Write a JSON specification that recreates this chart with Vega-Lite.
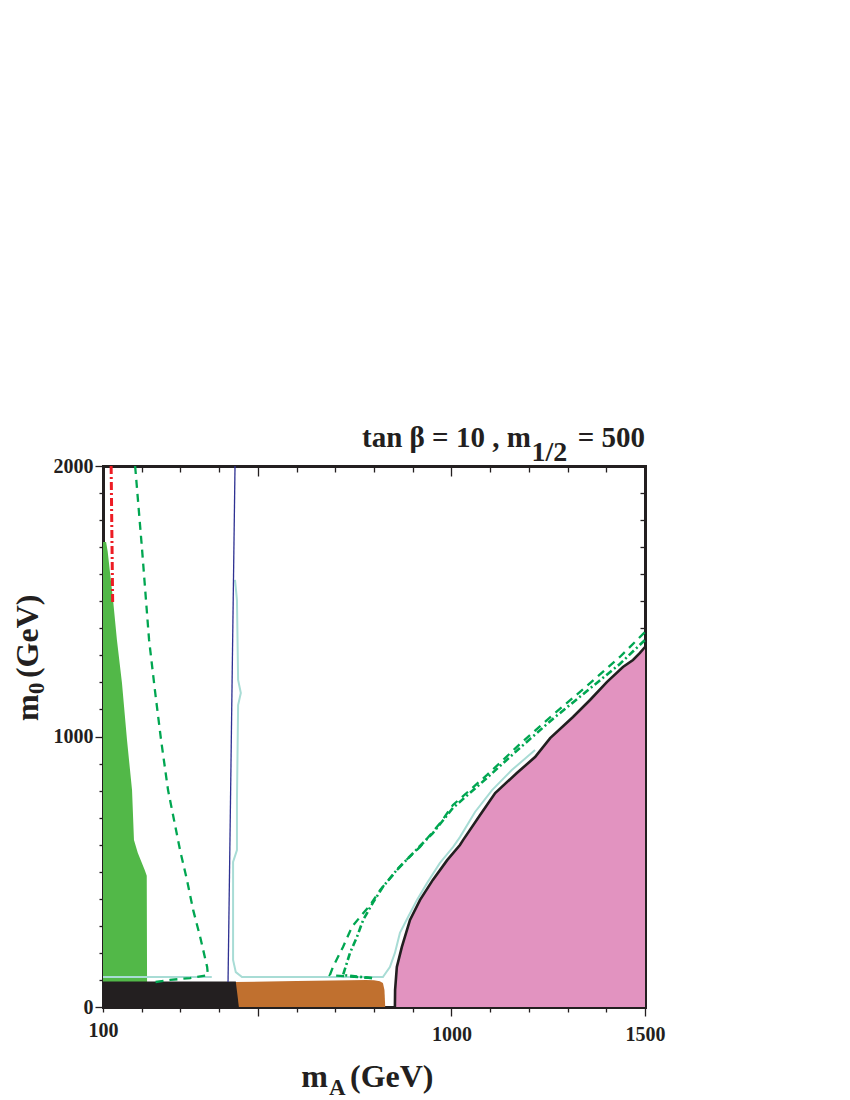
{
  "$schema": "https://vega.github.io/schema/vega-lite/v6.json",
  "width": 542,
  "height": 541,
  "autosize": {"type": "none"},
  "padding": {"left": 103, "top": 466, "right": 205, "bottom": 93},
  "background": "white",
  "config": {"view": {"stroke": null}},
  "datasets": {
    "green": [
      {"x": 100, "y": 1719}, {"x": 108, "y": 1719}, {"x": 112, "y": 1685}, {"x": 126, "y": 1505},
      {"x": 136, "y": 1357}, {"x": 149, "y": 1198}, {"x": 162, "y": 987}, {"x": 175, "y": 802},
      {"x": 180, "y": 617}, {"x": 190, "y": 569}, {"x": 208, "y": 506}, {"x": 213, "y": 485},
      {"x": 214, "y": 0}
    ],
    "orange": [
      {"x": 440, "y": 92}, {"x": 600, "y": 96}, {"x": 780, "y": 100}, {"x": 800, "y": 99},
      {"x": 815, "y": 95}, {"x": 823, "y": 89}, {"x": 827, "y": 63}, {"x": 829, "y": 0}
    ],
    "black": [
      {"x": 100, "y": 94}, {"x": 443, "y": 94}, {"x": 451, "y": 0}
    ],
    "pink": [
      {"x": 854, "y": 0, "o": 0}, {"x": 854.5, "y": 63, "o": 1}, {"x": 859, "y": 148, "o": 2},
      {"x": 872, "y": 222, "o": 3}, {"x": 893, "y": 322, "o": 4}, {"x": 919, "y": 396, "o": 5},
      {"x": 952, "y": 470, "o": 6}, {"x": 989, "y": 543, "o": 7}, {"x": 1022, "y": 599, "o": 8},
      {"x": 1030, "y": 617, "o": 9}, {"x": 1074, "y": 710, "o": 10}, {"x": 1113, "y": 791, "o": 11},
      {"x": 1169, "y": 865, "o": 12}, {"x": 1216, "y": 924, "o": 13}, {"x": 1255, "y": 994, "o": 14},
      {"x": 1314, "y": 1072, "o": 15}, {"x": 1358, "y": 1135, "o": 16}, {"x": 1402, "y": 1202, "o": 17},
      {"x": 1443, "y": 1257, "o": 18}, {"x": 1469, "y": 1283, "o": 19}, {"x": 1487, "y": 1309, "o": 20},
      {"x": 1500, "y": 1331, "o": 21}
    ],
    "red": [
      {"x": 121, "y": 2000, "o": 0}, {"x": 125, "y": 1490, "o": 1}
    ],
    "blue": [
      {"x": 441, "y": 2000, "o": 0}, {"x": 423, "y": 92, "o": 1}
    ],
    "dashL": [
      {"x": 183, "y": 2000, "o": 0}, {"x": 201, "y": 1690, "o": 1}, {"x": 219, "y": 1357, "o": 2},
      {"x": 234, "y": 1172, "o": 3}, {"x": 250, "y": 987, "o": 4}, {"x": 268, "y": 802, "o": 5},
      {"x": 299, "y": 580, "o": 6}, {"x": 317, "y": 469, "o": 7}, {"x": 333, "y": 358, "o": 8},
      {"x": 351, "y": 259, "o": 9}, {"x": 369, "y": 148, "o": 10}, {"x": 371, "y": 118, "o": 11},
      {"x": 325, "y": 107, "o": 12}, {"x": 273, "y": 100, "o": 13}, {"x": 234, "y": 92, "o": 14}
    ],
    "dashR": [
      {"x": 795, "y": 107, "o": 0}, {"x": 686, "y": 118, "o": 1}, {"x": 694, "y": 148, "o": 2},
      {"x": 720, "y": 222, "o": 3}, {"x": 743, "y": 296, "o": 4}, {"x": 764, "y": 333, "o": 5},
      {"x": 790, "y": 377, "o": 6}, {"x": 816, "y": 433, "o": 7}, {"x": 875, "y": 532, "o": 8},
      {"x": 919, "y": 592, "o": 9}, {"x": 971, "y": 680, "o": 10}, {"x": 1004, "y": 747, "o": 11},
      {"x": 1092, "y": 858, "o": 12}, {"x": 1177, "y": 972, "o": 13}, {"x": 1262, "y": 1080, "o": 14},
      {"x": 1350, "y": 1187, "o": 15}, {"x": 1435, "y": 1294, "o": 16}, {"x": 1500, "y": 1386, "o": 17}
    ],
    "dashdotR": [
      {"x": 795, "y": 107, "o": 0}, {"x": 720, "y": 118, "o": 1}, {"x": 738, "y": 200, "o": 2},
      {"x": 756, "y": 259, "o": 3}, {"x": 772, "y": 322, "o": 4}, {"x": 797, "y": 385, "o": 5},
      {"x": 823, "y": 444, "o": 6}, {"x": 859, "y": 507, "o": 7}, {"x": 901, "y": 569, "o": 8},
      {"x": 952, "y": 643, "o": 9}, {"x": 1004, "y": 736, "o": 10}, {"x": 1092, "y": 847, "o": 11},
      {"x": 1177, "y": 958, "o": 12}, {"x": 1262, "y": 1065, "o": 13}, {"x": 1350, "y": 1168, "o": 14},
      {"x": 1435, "y": 1268, "o": 15}, {"x": 1500, "y": 1357, "o": 16}
    ],
    "cyan": [
      {"x": 441, "y": 1579, "o": 0}, {"x": 446, "y": 1505, "o": 1}, {"x": 449, "y": 1209, "o": 2},
      {"x": 456, "y": 1161, "o": 3}, {"x": 449, "y": 1116, "o": 4}, {"x": 446, "y": 765, "o": 5},
      {"x": 446, "y": 580, "o": 6}, {"x": 436, "y": 536, "o": 7}, {"x": 436, "y": 396, "o": 8},
      {"x": 436, "y": 174, "o": 9}, {"x": 443, "y": 129, "o": 10}, {"x": 459, "y": 111, "o": 11},
      {"x": 823, "y": 111, "o": 12}, {"x": 841, "y": 148, "o": 13}, {"x": 854, "y": 200, "o": 14},
      {"x": 867, "y": 274, "o": 15}, {"x": 888, "y": 333, "o": 16}, {"x": 911, "y": 396, "o": 17},
      {"x": 937, "y": 458, "o": 18}, {"x": 970, "y": 532, "o": 19}, {"x": 1004, "y": 591, "o": 20},
      {"x": 1022, "y": 628, "o": 21}, {"x": 1061, "y": 721, "o": 22}, {"x": 1105, "y": 802, "o": 23},
      {"x": 1156, "y": 876, "o": 24}, {"x": 1216, "y": 950, "o": 25}
    ],
    "cyanL": [
      {"x": 100, "y": 111, "o": 0}, {"x": 381, "y": 111, "o": 1}
    ],
    "one": [{"x": 100, "y": 0}]
  },
  "layer": [
    {
      "encoding": {
        "x": {
          "field": "x", "type": "quantitative",
          "scale": {"domain": [100, 1500], "nice": false, "zero": false},
          "axis": {
            "orient": "bottom", "title": null, "grid": false,
            "values": [100, 200, 300, 400, 500, 600, 700, 800, 900, 1000, 1100, 1200, 1300, 1400, 1500],
            "format": "d",
            "labelExpr": "(datum.value == 100 || datum.value == 1000 || datum.value == 1500) ? datum.label : ''",
            "labelFont": "Liberation Serif", "labelFontWeight": "bold", "labelFontSize": 20,
            "labelColor": "#231F20", "labelPadding": 8, "labelOverlap": false, "labelFlush": false, "labelBound": false,
            "domainColor": "#231F20", "domainWidth": 3, "domainCap": "square",
            "tickColor": "#231F20", "tickWidth": 1.3,
            "tickSize": {"condition": {"test": "datum.value % 500 === 0", "value": 9}, "value": 5}
          }
        },
        "y": {
          "field": "y", "type": "quantitative",
          "scale": {"domain": [0, 2000], "nice": false, "zero": false},
          "axis": {
            "orient": "left", "title": null, "grid": false,
            "values": [0, 100, 200, 300, 400, 500, 600, 700, 800, 900, 1000, 1100, 1200, 1300, 1400, 1500, 1600, 1700, 1800, 1900, 2000],
            "format": "d",
            "labelExpr": "(datum.value % 1000 === 0) ? datum.label : ''",
            "labelFont": "Liberation Serif", "labelFontWeight": "bold", "labelFontSize": 20,
            "labelColor": "#231F20", "labelPadding": 2, "labelOverlap": false, "labelFlush": false, "labelBound": false,
            "domainColor": "#231F20", "domainWidth": 3, "domainCap": "square",
            "tickColor": "#231F20", "tickWidth": 1.3,
            "tickSize": {"condition": {"test": "datum.value % 1000 === 0", "value": 8}, "value": 4}
          }
        }
      },
      "layer": [
        {"data": {"name": "green"}, "mark": {"type": "area", "orient": "vertical", "color": "#52B848"}, "encoding": {"y2": {"datum": 0}}},
        {"data": {"name": "orange"}, "mark": {"type": "area", "orient": "vertical", "color": "#C0702F"}, "encoding": {"y2": {"datum": 0}}},
        {"data": {"name": "black"}, "mark": {"type": "area", "orient": "vertical", "color": "#231F20"}, "encoding": {"y2": {"datum": 0}}},
        {"data": {"name": "pink"}, "mark": {"type": "area", "orient": "vertical", "color": "#E293C0"}, "encoding": {"y2": {"datum": 0}}},
        {"data": {"name": "cyanL"}, "mark": {"type": "line", "color": "#A8DCD5", "strokeWidth": 2}, "encoding": {"order": {"field": "o"}}},
        {"data": {"name": "cyan"}, "mark": {"type": "line", "color": "#A8DCD5", "strokeWidth": 2}, "encoding": {"order": {"field": "o"}}},
        {"data": {"name": "pink"}, "mark": {"type": "line", "color": "#231F20", "strokeWidth": 2.6}, "encoding": {"order": {"field": "o"}}},
        {"data": {"name": "blue"}, "mark": {"type": "line", "color": "#2E3192", "strokeWidth": 1.3}, "encoding": {"order": {"field": "o"}}},
        {"data": {"name": "red"}, "mark": {"type": "line", "color": "#ED1C24", "strokeWidth": 3, "strokeDash": [8, 3, 2, 3]}, "encoding": {"order": {"field": "o"}}},
        {"data": {"name": "dashL"}, "mark": {"type": "line", "color": "#00A651", "strokeWidth": 2.3, "strokeDash": [8, 6]}, "encoding": {"order": {"field": "o"}}},
        {"data": {"name": "dashR"}, "mark": {"type": "line", "color": "#00A651", "strokeWidth": 2.3, "strokeDash": [8, 6]}, "encoding": {"order": {"field": "o"}}},
        {"data": {"name": "dashdotR"}, "mark": {"type": "line", "color": "#00A651", "strokeWidth": 2.6, "strokeDash": [7, 3, 2, 3]}, "encoding": {"order": {"field": "o"}}},
        {"data": {"name": "one"}, "mark": {"type": "text", "text": "tan β = 10 , m", "align": "right", "baseline": "alphabetic", "font": "Liberation Serif", "fontWeight": "bold", "fontSize": 29, "color": "#231F20"}, "encoding": {"x": {"datum": 1205}, "y": {"datum": 2070}}},
        {"data": {"name": "one"}, "mark": {"type": "text", "text": "1/2", "align": "left", "baseline": "alphabetic", "font": "Liberation Serif", "fontWeight": "bold", "fontSize": 28, "color": "#231F20"}, "encoding": {"x": {"datum": 1207}, "y": {"datum": 2019}}},
        {"data": {"name": "one"}, "mark": {"type": "text", "text": "= 500", "align": "right", "baseline": "alphabetic", "font": "Liberation Serif", "fontWeight": "bold", "fontSize": 29, "color": "#231F20"}, "encoding": {"x": {"datum": 1500}, "y": {"datum": 2070}}},
        {"data": {"name": "one"}, "mark": {"type": "text", "text": "m", "align": "right", "baseline": "alphabetic", "font": "Liberation Serif", "fontWeight": "bold", "fontSize": 32, "color": "#231F20"}, "encoding": {"x": {"datum": 681}, "y": {"datum": -296}}},
        {"data": {"name": "one"}, "mark": {"type": "text", "text": "A", "align": "left", "baseline": "alphabetic", "font": "Liberation Serif", "fontWeight": "bold", "fontSize": 23, "color": "#231F20"}, "encoding": {"x": {"datum": 684}, "y": {"datum": -325}}},
        {"data": {"name": "one"}, "mark": {"type": "text", "text": "(GeV)", "align": "left", "baseline": "alphabetic", "font": "Liberation Serif", "fontWeight": "bold", "fontSize": 32, "color": "#231F20"}, "encoding": {"x": {"datum": 738}, "y": {"datum": -296}}},
        {"data": {"name": "one"}, "mark": {"type": "text", "text": "m", "angle": 270, "align": "left", "baseline": "alphabetic", "font": "Liberation Serif", "fontWeight": "bold", "fontSize": 32, "color": "#231F20"}, "encoding": {"x": {"datum": -68}, "y": {"datum": 1057}}},
        {"data": {"name": "one"}, "mark": {"type": "text", "text": "0", "angle": 270, "align": "left", "baseline": "alphabetic", "font": "Liberation Serif", "fontWeight": "bold", "fontSize": 23, "color": "#231F20"}, "encoding": {"x": {"datum": -52}, "y": {"datum": 1157}}},
        {"data": {"name": "one"}, "mark": {"type": "text", "text": "(GeV)", "angle": 270, "align": "left", "baseline": "alphabetic", "font": "Liberation Serif", "fontWeight": "bold", "fontSize": 32, "color": "#231F20"}, "encoding": {"x": {"datum": -68}, "y": {"datum": 1216}}}
      ]
    },
    {
      "data": {"name": "one"},
      "mark": {"type": "point", "opacity": 0},
      "encoding": {
        "x": {
          "field": "x", "type": "quantitative",
          "scale": {"domain": [100, 1500], "nice": false, "zero": false},
          "axis": {
            "orient": "top", "title": null, "grid": false, "labels": false,
            "values": [100, 200, 300, 400, 500, 600, 700, 800, 900, 1000, 1100, 1200, 1300, 1400, 1500],
            "domainColor": "#231F20", "domainWidth": 3, "domainCap": "square",
            "tickColor": "#231F20", "tickWidth": 1.3,
            "tickSize": {"condition": {"test": "datum.value % 500 === 0", "value": -10}, "value": -6}
          }
        },
        "y": {
          "field": "y", "type": "quantitative",
          "scale": {"domain": [0, 2000], "nice": false, "zero": false},
          "axis": {
            "orient": "right", "title": null, "grid": false, "labels": false,
            "values": [0, 100, 200, 300, 400, 500, 600, 700, 800, 900, 1000, 1100, 1200, 1300, 1400, 1500, 1600, 1700, 1800, 1900, 2000],
            "domainColor": "#231F20", "domainWidth": 3, "domainCap": "square",
            "tickColor": "#231F20", "tickWidth": 1.3,
            "tickSize": {"condition": {"test": "datum.value % 1000 === 0", "value": -9}, "value": -5}
          }
        }
      }
    }
  ],
  "resolve": {"axis": {"x": "independent", "y": "independent"}}
}
